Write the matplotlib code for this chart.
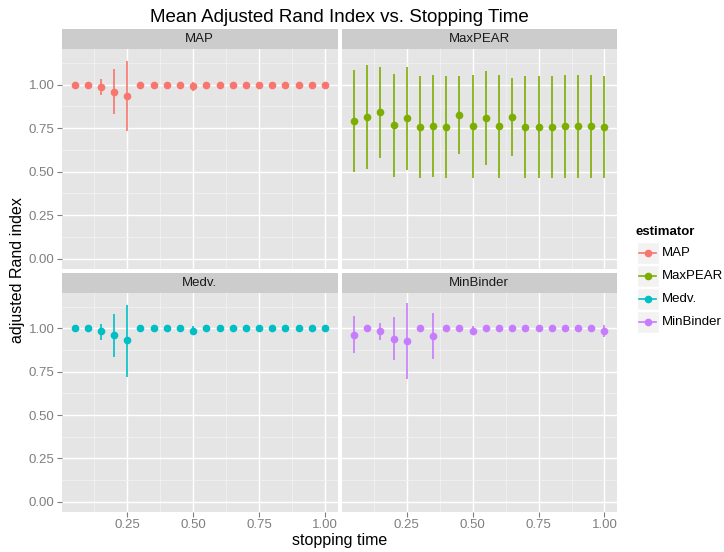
import matplotlib
matplotlib.use("Agg")
import matplotlib.pyplot as plt
from matplotlib.patches import Rectangle
from matplotlib.ticker import FixedLocator

plt.rcParams['font.family'] = ['Liberation Sans', 'DejaVu Sans']

# stopping times (x)
times = [0.05, 0.10, 0.15, 0.20, 0.25, 0.30, 0.35, 0.40, 0.45, 0.50,
         0.55, 0.60, 0.65, 0.70, 0.75, 0.80, 0.85, 0.90, 0.95, 1.00]

estimators = ['MAP', 'MaxPEAR', 'Medv.', 'MinBinder']
colors = ['#F8766D', '#7CAE00', '#00BFC4', '#C77CFF']

# mean adjusted rand index and interval ends
map_mean = [1.0, 1.0, 0.988, 0.960, 0.937, 1.0, 1.0, 1.0, 1.0, 0.992,
            1.0, 1.0, 1.0, 1.0, 1.0, 1.0, 1.0, 1.0, 1.0, 1.0]
map_lo = [1.0, 1.0, 0.938, 0.829, 0.736, 1.0, 1.0, 1.0, 1.0, 0.965,
          1.0, 1.0, 1.0, 1.0, 1.0, 1.0, 1.0, 1.0, 1.0, 1.0]
map_hi = [1.0, 1.0, 1.033, 1.090, 1.138, 1.0, 1.0, 1.0, 1.0, 1.015,
          1.0, 1.0, 1.0, 1.0, 1.0, 1.0, 1.0, 1.0, 1.0, 1.0]

pear_mean = [0.792, 0.815, 0.844, 0.769, 0.810, 0.758, 0.763, 0.758, 0.827, 0.763,
             0.810, 0.763, 0.815, 0.758, 0.758, 0.758, 0.763, 0.763, 0.763, 0.758]
pear_lo = [0.500, 0.517, 0.581, 0.469, 0.512, 0.462, 0.471, 0.462, 0.604, 0.465,
           0.540, 0.465, 0.590, 0.462, 0.462, 0.462, 0.465, 0.465, 0.465, 0.462]
pear_hi = [1.087, 1.112, 1.102, 1.063, 1.102, 1.052, 1.054, 1.052, 1.048, 1.058,
           1.081, 1.058, 1.037, 1.052, 1.052, 1.052, 1.058, 1.058, 1.058, 1.052]

medv_mean = [1.0, 1.0, 0.983, 0.960, 0.931, 1.0, 1.0, 1.0, 1.0, 0.988,
             1.0, 1.0, 1.0, 1.0, 1.0, 1.0, 1.0, 1.0, 1.0, 1.0]
medv_lo = [1.0, 1.0, 0.935, 0.837, 0.721, 1.0, 1.0, 1.0, 1.0, 0.963,
           1.0, 1.0, 1.0, 1.0, 1.0, 1.0, 1.0, 1.0, 1.0, 1.0]
medv_hi = [1.0, 1.0, 1.027, 1.081, 1.138, 1.0, 1.0, 1.0, 1.0, 1.013,
           1.0, 1.0, 1.0, 1.0, 1.0, 1.0, 1.0, 1.0, 1.0, 1.0]

binder_mean = [0.965, 1.0, 0.983, 0.942, 0.925, 1.0, 0.954, 1.0, 1.0, 0.988,
               1.0, 1.0, 1.0, 1.0, 1.0, 1.0, 1.0, 1.0, 1.0, 0.988]
binder_lo = [0.856, 1.0, 0.935, 0.819, 0.708, 1.0, 0.825, 1.0, 1.0, 0.963,
             1.0, 1.0, 1.0, 1.0, 1.0, 1.0, 1.0, 1.0, 1.0, 0.950]
binder_hi = [1.071, 1.0, 1.029, 1.069, 1.148, 1.0, 1.087, 1.0, 1.0, 1.013,
             1.0, 1.0, 1.0, 1.0, 1.0, 1.0, 1.0, 1.0, 1.0, 1.023]

means = [map_mean, pear_mean, medv_mean, binder_mean]
lows = [map_lo, pear_lo, medv_lo, binder_lo]
highs = [map_hi, pear_hi, medv_hi, binder_hi]

x_ticks = [0.25, 0.50, 0.75, 1.00]
x_ticklabels = ['0.25', '0.50', '0.75', '1.00']
y_ticks = [0.00, 0.25, 0.50, 0.75, 1.00]
y_ticklabels = ['0.00', '0.25', '0.50', '0.75', '1.00']

W, H = 724, 552
fig = plt.figure(figsize=(W / 100, H / 100), dpi=100)


def pix_axes(x0, y0, x1, y1):
    # pixel box (top-left origin) -> figure axes
    return fig.add_axes([x0 / W, 1 - y1 / H, (x1 - x0) / W, (y1 - y0) / H])


cols = [(62, 337.5), (341.5, 617)]
rows = [(29, 49, 268.5), (273, 293, 511.5)]
grey50 = '#7F7F7F'

for i, name in enumerate(estimators):
    r, c = divmod(i, 2)
    x0, x1 = cols[c]
    s0, p0, p1 = rows[r]

    strip = pix_axes(x0, s0, x1, p0)
    strip.set_facecolor('#CCCCCC')
    strip.set_xticks([])
    strip.set_yticks([])
    for sp in strip.spines.values():
        sp.set_visible(False)
    strip.text(0.5, 0.5, name, ha='center', va='center', fontsize=9.5,
               color='#1A1A1A', transform=strip.transAxes)

    ax = pix_axes(x0, p0, x1, p1)
    ax.set_facecolor('#E5E5E5')
    for sp in ax.spines.values():
        sp.set_visible(False)
    ax.set_xlim(0.0025, 1.0475)
    ax.set_ylim(-0.057, 1.205)
    ax.set_xticks(x_ticks)
    ax.set_yticks(y_ticks)
    ax.xaxis.set_minor_locator(FixedLocator([0.125, 0.375, 0.625, 0.875]))
    ax.yaxis.set_minor_locator(FixedLocator([0.125, 0.375, 0.625, 0.875, 1.125]))
    ax.grid(which='major', color='white', linewidth=1.0)
    ax.grid(which='minor', color='#F2F2F2', linewidth=0.6)
    ax.set_axisbelow(True)
    ax.tick_params(which='minor', length=0)
    ax.tick_params(which='major', length=3.5, width=0.8, color=grey50,
                   labelcolor=grey50, labelsize=9.5, pad=2)
    if r == 1:
        ax.set_xticklabels(x_ticklabels)
    else:
        ax.tick_params(axis='x', which='major', length=0, labelbottom=False)
    if c == 0:
        ax.set_yticklabels(y_ticklabels)
    else:
        ax.tick_params(axis='y', which='major', length=0, labelleft=False)

    m, lo, hi = means[i], lows[i], highs[i]
    ax.vlines(times, lo, hi, color=colors[i], linewidth=1.2, zorder=3)
    ax.plot(times, m, 'o', color=colors[i], markersize=4.5, zorder=4)

fig.text(339.5 / W, 1 - 18 / H, 'Mean Adjusted Rand Index vs. Stopping Time',
         ha='center', va='center', fontsize=13.5, color='black')
fig.text(339.5 / W, 1 - 541 / H, 'stopping time', ha='center', va='center',
         fontsize=11.5, color='black')
fig.text(18 / W, 1 - 270 / H, 'adjusted Rand index', ha='center', va='center',
         rotation=90, fontsize=11.5, color='black')

# legend drawn by hand to get the ggplot key boxes
leg = pix_axes(628, 215, 724, 340)
leg.set_xlim(628, 724)
leg.set_ylim(340, 215)
leg.axis('off')
leg.text(636, 232, 'estimator', ha='left', va='center', fontsize=9.5,
         fontweight='bold', color='black')
for k, name in enumerate(estimators):
    cy = 253.3 + k * 23
    leg.add_patch(Rectangle((637, cy - 11), 21.5, 22, facecolor='#F2F2F2',
                            edgecolor='white', linewidth=1))
    leg.plot([639, 656], [cy, cy], color=colors[k], linewidth=1.2)
    leg.plot([647.5], [cy], 'o', color=colors[k], markersize=4.5)
    leg.text(662, cy, name, ha='left', va='center', fontsize=9.5, color='black')

fig.savefig('out.png', dpi=100, facecolor='white')
